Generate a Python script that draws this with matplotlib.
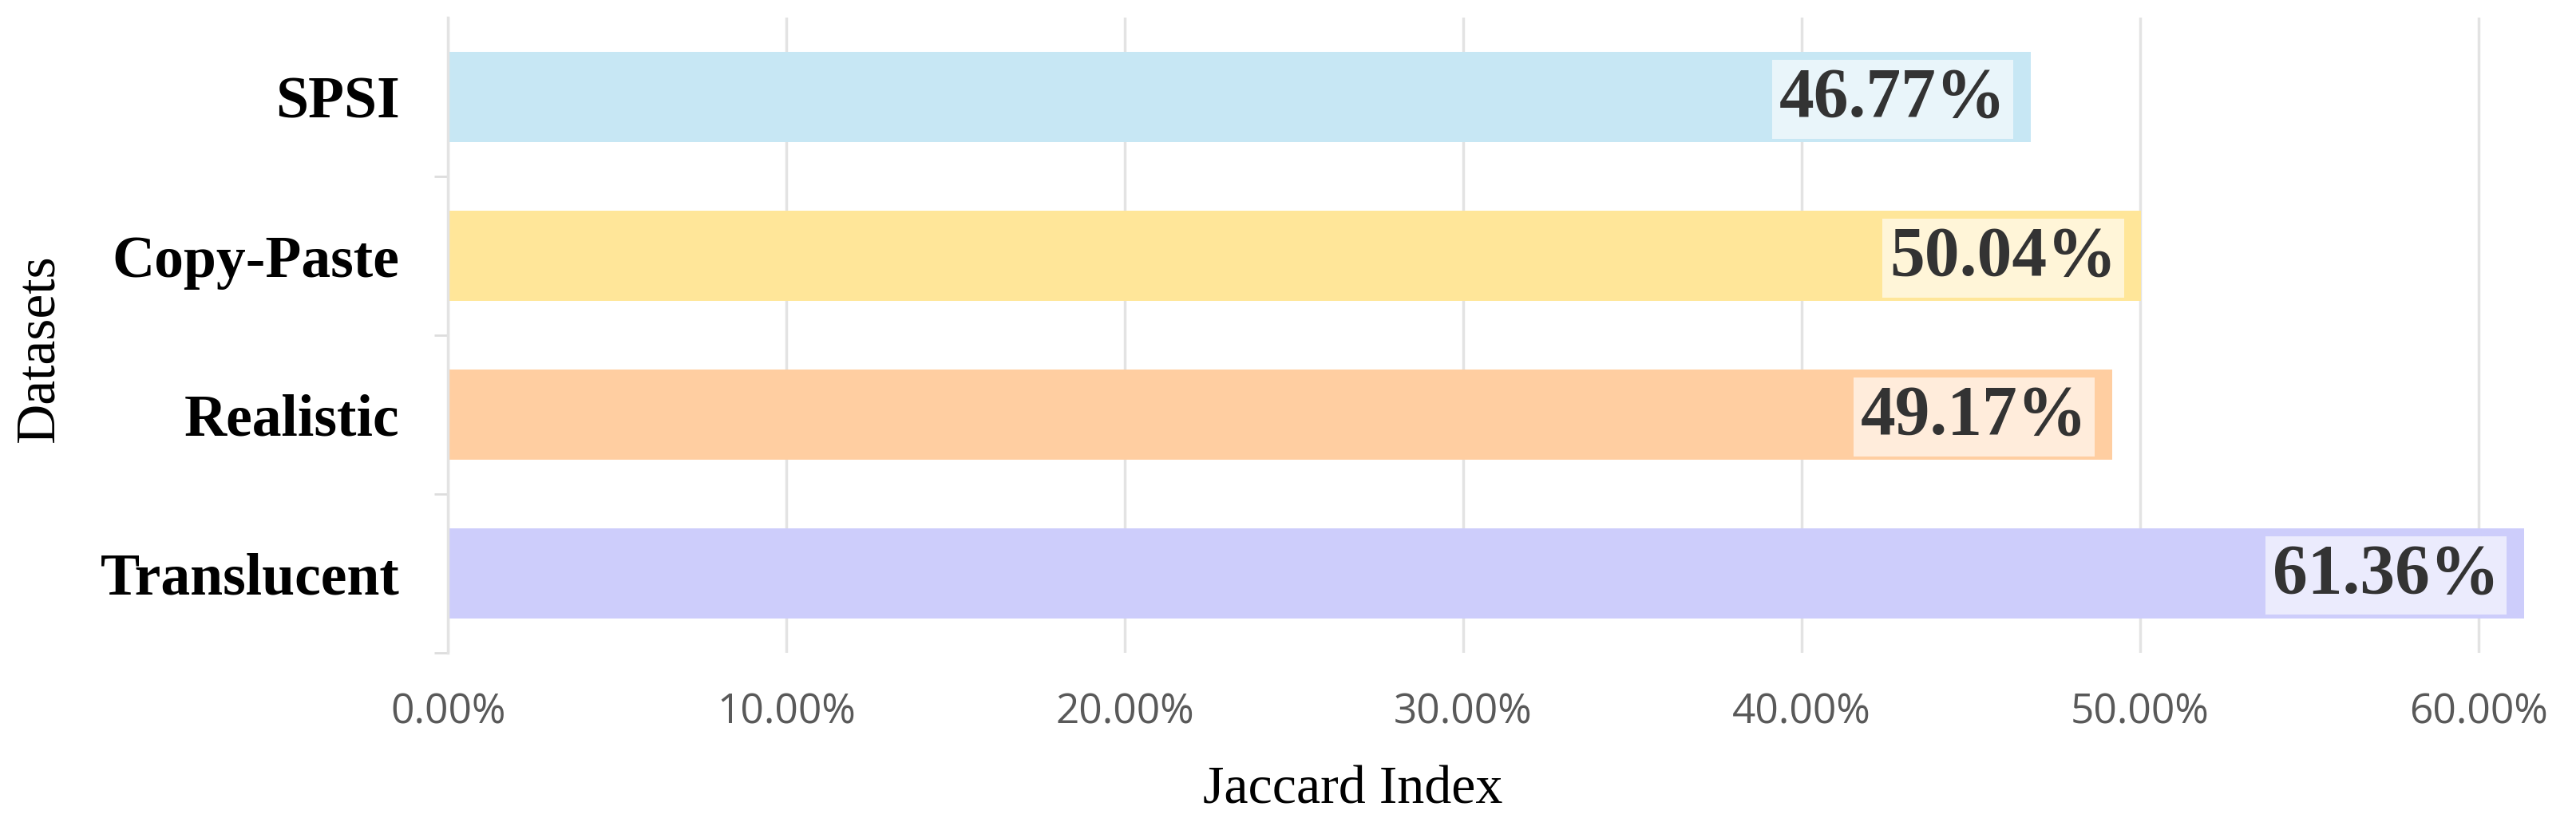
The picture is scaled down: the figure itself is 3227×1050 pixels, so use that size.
import numpy as np
import matplotlib
matplotlib.use('Agg')
import matplotlib.pyplot as plt

# data (top to bottom in the picture)
datasets = ['SPSI', 'Copy-Paste', 'Realistic', 'Translucent']
jaccard = [46.77, 50.04, 49.17, 61.36]
bar_colors = ['#C7E7F4', '#FFE699', '#FFCEA1', '#CDCDFB']
x_ticks = [0, 10, 20, 30, 40, 50, 60]

serif = ['Liberation Serif', 'DejaVu Serif']
sans = ['Open Sans', 'DejaVu Sans']

fig = plt.figure(figsize=(32.27, 10.5), dpi=100)
ax = fig.add_axes([0.174, 0.221, 0.813, 0.758])

ypos = np.arange(len(datasets))
ax.barh(ypos, jaccard, height=0.57, color=bar_colors, zorder=2)

# value labels inside the bar end, on a pale box
for y, v in zip(ypos, jaccard):
    ax.annotate(f'{v:.2f}%', xy=(v, y), xytext=(-22, -2), textcoords='offset points',
                ha='right', va='center', fontsize=63, fontweight='bold', family=serif,
                color='#333333', zorder=4,
                bbox=dict(boxstyle='square,pad=0.1', fc='white', ec='none', alpha=0.62))

ax.set_ylim(len(datasets) - 0.5, -0.5)
ax.set_xlim(0, 61.9)
ax.set_yticks(ypos)
ax.set_yticklabels(datasets, fontsize=53, fontweight='bold', family=serif)
ax.set_yticks(np.arange(0.5, len(datasets)), minor=True)
ax.tick_params(axis='y', which='major', length=0, pad=44)
ax.tick_params(axis='y', which='minor', length=12, width=2, color='#dddddd')

ax.set_xticks(x_ticks)
ax.set_xticklabels([f'{t:.2f}%' for t in x_ticks], fontsize=37, family=sans, color='#595959')
ax.tick_params(axis='x', length=0, pad=36)

ax.grid(axis='x', color='#e3e3e3', linewidth=2.5, zorder=0)
for s in ['top', 'right', 'bottom']:
    ax.spines[s].set_visible(False)
ax.spines['left'].set_color('#e3e3e3')
ax.spines['left'].set_linewidth(2.5)

ax.set_xlabel('Jaccard Index', fontsize=49, family=serif, va='center')
ax.xaxis.set_label_coords(0.432, -0.216)
ax.set_ylabel('Datasets', fontsize=50, family=serif, va='center')
ax.yaxis.set_label_coords(-0.195, 0.48)

fig.savefig('out.png', dpi=100, facecolor='white')
